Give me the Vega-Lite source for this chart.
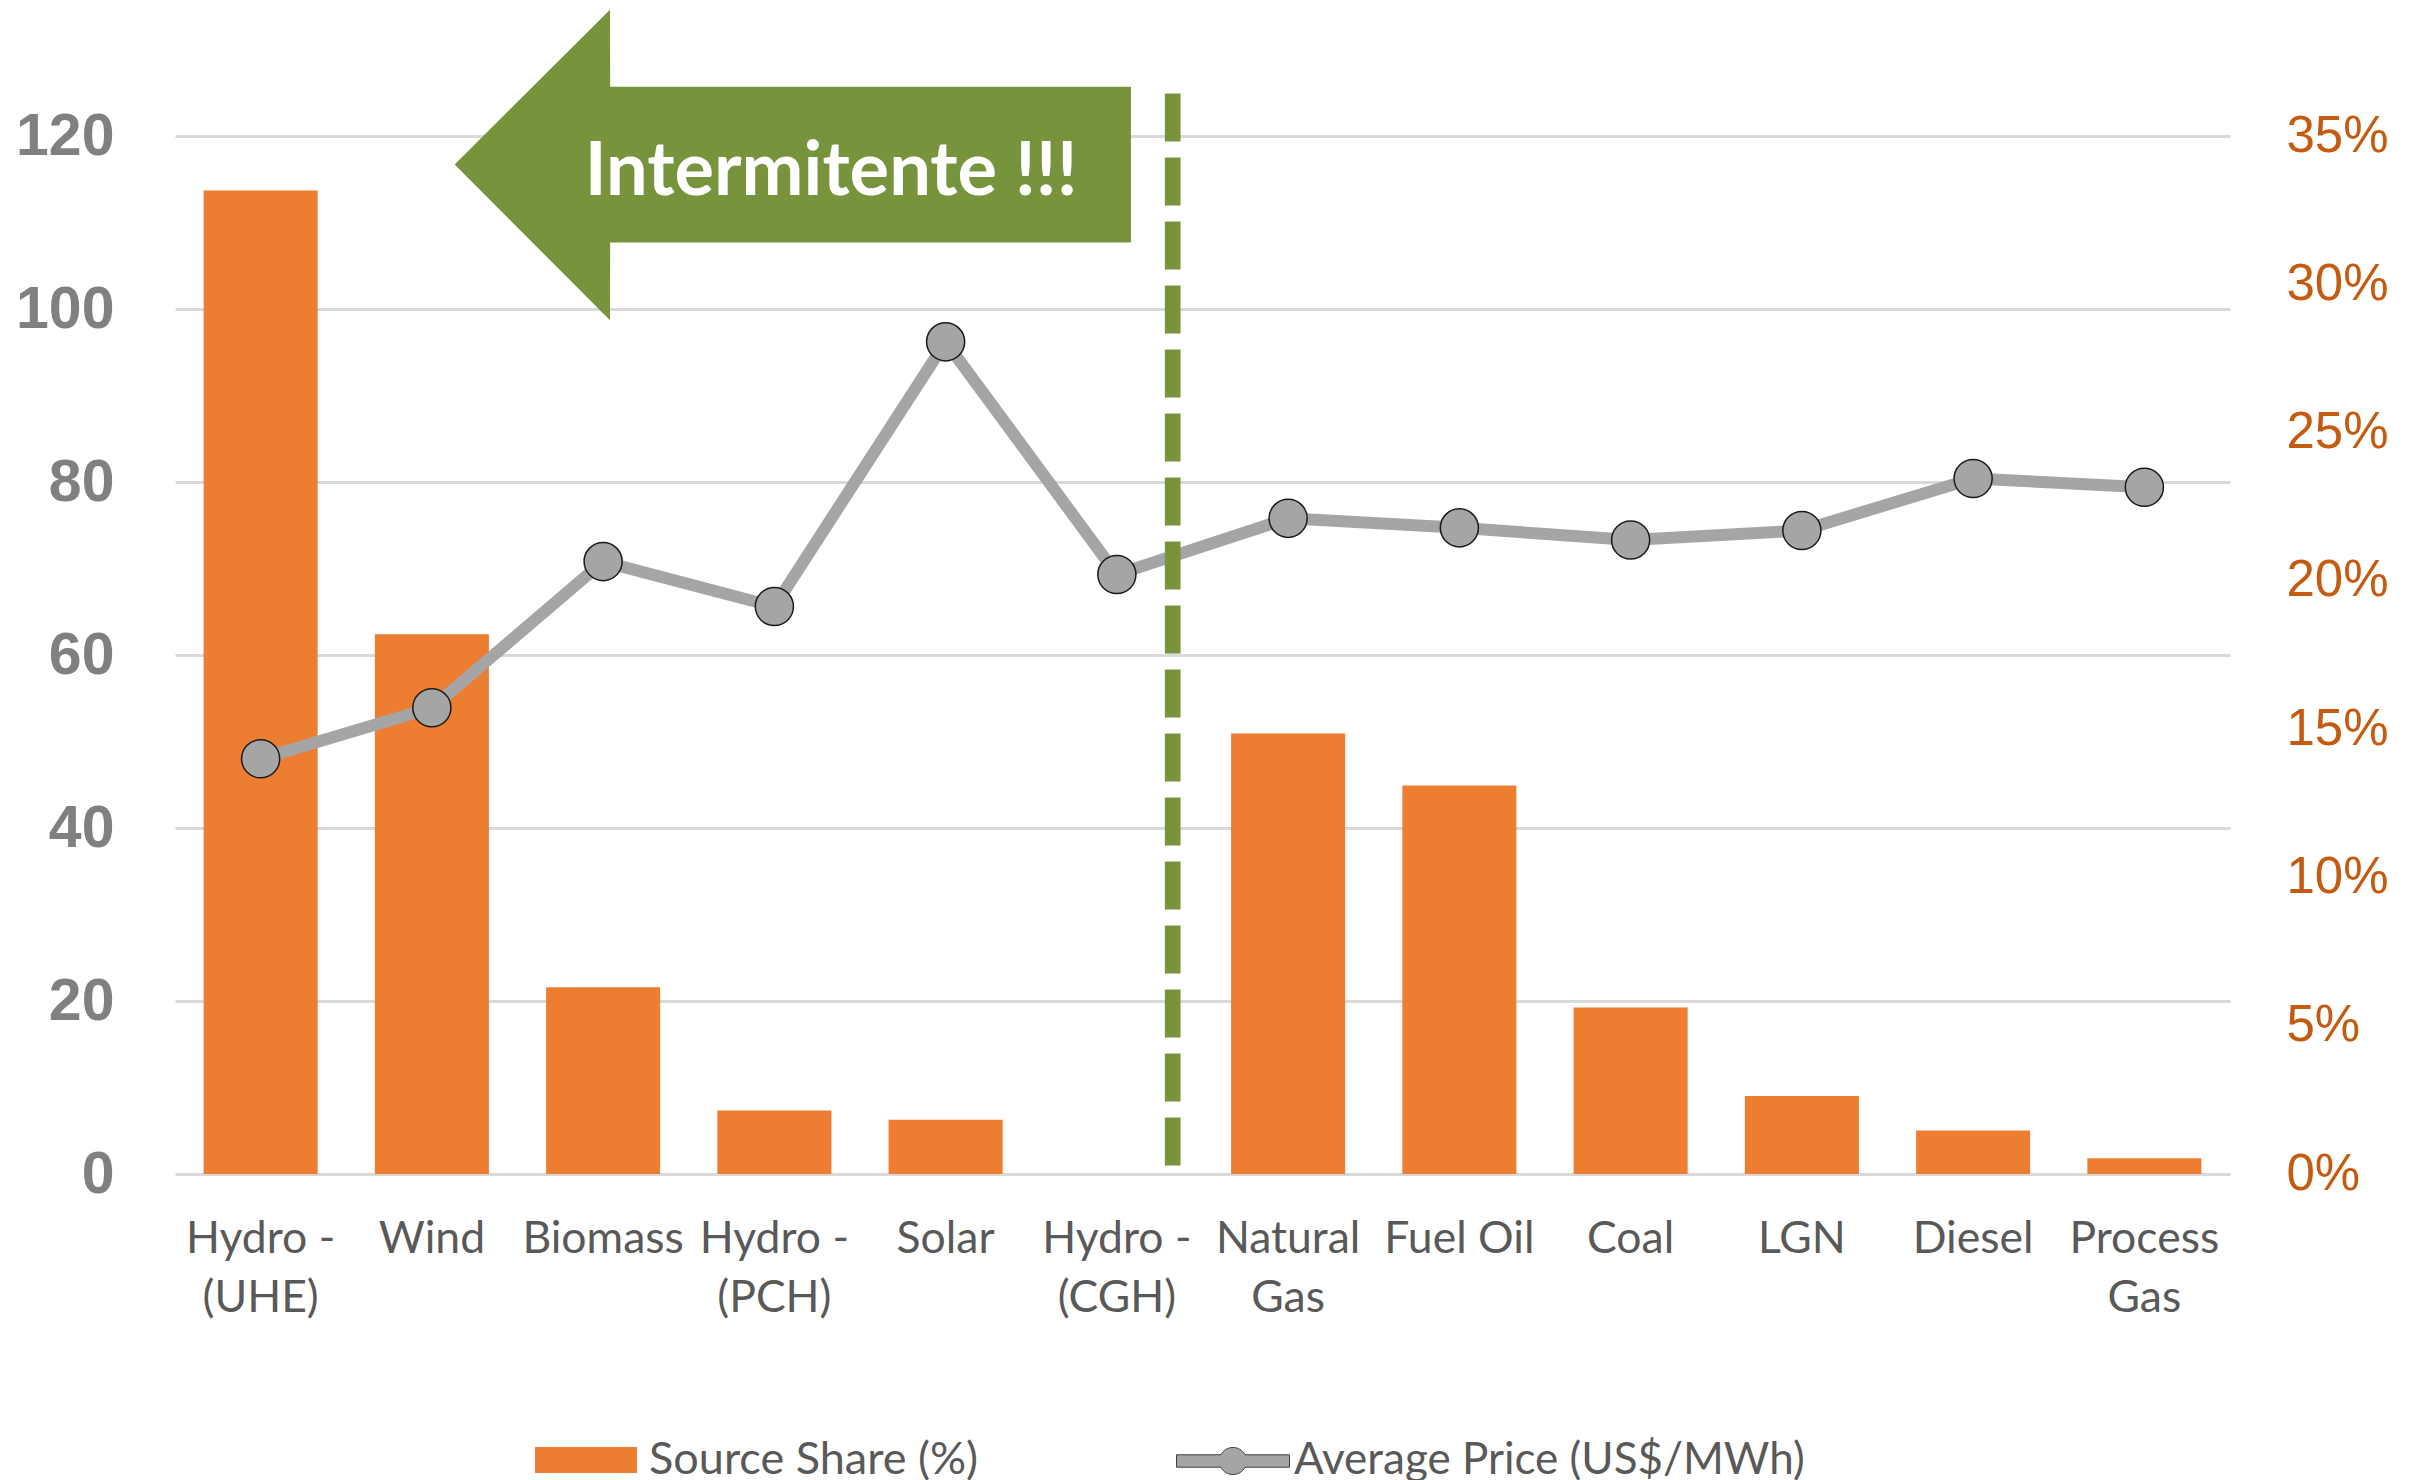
{
  "$schema": "https://vega.github.io/schema/vega-lite/v6.json",
  "width": 2055,
  "height": 1038,
  "autosize": {"type": "none"},
  "padding": {"left": 175, "top": 136, "right": 183, "bottom": 306},
  "background": "white",
  "config": {"view": {"stroke": null}},
  "datasets": {
    "sources": [
      {"source": "Hydro - (UHE)", "share": 0.3316, "price": 48.0},
      {"source": "Wind", "share": 0.182, "price": 53.9},
      {"source": "Biomass", "share": 0.063, "price": 70.8},
      {"source": "Hydro - (PCH)", "share": 0.0214, "price": 65.6},
      {"source": "Solar", "share": 0.0183, "price": 96.2},
      {"source": "Hydro - (CGH)", "share": 0, "price": 69.3},
      {"source": "Natural Gas", "share": 0.1485, "price": 75.8},
      {"source": "Fuel Oil", "share": 0.131, "price": 74.7},
      {"source": "Coal", "share": 0.0561, "price": 73.3},
      {"source": "LGN", "share": 0.0263, "price": 74.4},
      {"source": "Diesel", "share": 0.0147, "price": 80.4},
      {"source": "Process Gas", "share": 0.0053, "price": 79.4}
    ],
    "callout": [
      {"ax": 1.633, "upper": 116.7, "lower": 116.7, "ord": 1},
      {"ax": 2.54, "upper": 134.6, "lower": 98.7, "ord": 2},
      {"ax": 2.541, "upper": 125.7, "lower": 107.7, "ord": 3},
      {"ax": 5.582, "upper": 125.7, "lower": 107.7, "ord": 4}
    ],
    "calloutText": [
      {"label": "Intermitente !!!", "tx": 3.831, "ty": 113.2}
    ],
    "divider": [
      {"xd": 5.826, "ytop": 124.9, "ybot": 0.9}
    ]
  },
  "layer": [
    {
      "data": {"name": "sources"},
      "layer": [
        {
          "mark": {"type": "bar"},
          "encoding": {
            "x": {
              "field": "source", "type": "nominal", "sort": null,
              "scale": {"paddingInner": 0.334, "paddingOuter": 0.167},
              "axis": {
                "title": null, "labelAngle": 0, "domain": false, "ticks": false,
                "labelFont": "Lato", "labelFontSize": 44.5, "labelColor": "#595959",
                "labelPadding": 43, "labelLineHeight": 59, "labelOverlap": false, "labelLimit": 0,
                "labelExpr": "datum.value == 'Fuel Oil' ? datum.value : split(replace(datum.value, regexp(' (?=[^ ]+$)'), '|'), '|')"
              }
            },
            "y": {
              "field": "share", "type": "quantitative",
              "scale": {"domain": [0, 0.35], "nice": false},
              "axis": {
                "orient": "right", "title": null, "grid": false, "domain": false, "ticks": false,
                "values": [0, 0.05, 0.1, 0.15, 0.2, 0.25, 0.3, 0.35], "format": ".0%",
                "labelFont": "Liberation Sans", "labelFontSize": 51, "labelColor": "#C55A11",
                "labelPadding": 56
              }
            },
            "color": {
              "datum": "Source Share (%)", "type": "nominal",
              "scale": {"range": ["#ED7D31"]},
              "legend": {
                "orient": "none", "legendX": 360, "legendY": 1273, "title": null, "padding": 0,
                "symbolType": "M-1,-0.255H1V0.255H-1Z", "symbolSize": 10404, "symbolStrokeWidth": 0,
                "labelFont": "Lato", "labelFontSize": 45, "labelColor": "#595959",
                "labelOffset": 12, "labelLimit": 0
              }
            }
          }
        },
        {
          "mark": {"type": "line", "color": "#A5A5A5", "strokeWidth": 12},
          "encoding": {
            "x": {"field": "source", "type": "nominal", "sort": null},
            "y": {
              "field": "price", "type": "quantitative",
              "scale": {"domain": [0, 120], "nice": false},
              "axis": {
                "orient": "left", "title": null, "grid": true, "gridColor": "#D9D9D9", "gridWidth": 3,
                "domain": false, "ticks": false, "values": [0, 20, 40, 60, 80, 100, 120],
                "labelFont": "Liberation Sans", "labelFontWeight": "bold", "labelFontSize": 59,
                "labelColor": "#808080", "labelPadding": 61
              }
            }
          }
        },
        {
          "mark": {"type": "point", "filled": true, "size": 1452, "stroke": "#1a1a1a", "strokeWidth": 1.5, "opacity": 1},
          "encoding": {
            "x": {"field": "source", "type": "nominal", "sort": null},
            "y": {
              "field": "price", "type": "quantitative",
              "scale": {"domain": [0, 120], "nice": false}, "axis": null
            },
            "fill": {
              "datum": "Average Price (US$/MWh)", "type": "nominal",
              "scale": {"range": ["#A5A5A5"]},
              "legend": {
                "orient": "none", "legendX": 1001, "legendY": 1268, "title": null, "padding": 0,
                "symbolType": "M-1,-0.11H-0.2133A0.24,0.24 0 0,1 0.2133,-0.11H1V0.11H0.2133A0.24,0.24 0 0,1 -0.2133,0.11H-1Z",
                "symbolSize": 12769, "symbolStrokeColor": "#404040", "symbolStrokeWidth": 1,
                "labelFont": "Lato", "labelFontSize": 44, "labelColor": "#595959",
                "labelOffset": 4, "labelLimit": 0
              }
            }
          }
        }
      ],
      "resolve": {"scale": {"y": "independent"}}
    },
    {
      "data": {"name": "divider"},
      "mark": {"type": "rule", "color": "#77933C", "strokeWidth": 15.7, "strokeDash": [48, 16]},
      "encoding": {
        "x": {"field": "xd", "type": "quantitative", "scale": {"domain": [0, 12], "nice": false, "zero": false}, "axis": null},
        "y": {"field": "ytop", "type": "quantitative", "scale": {"domain": [0, 120], "nice": false}, "axis": null},
        "y2": {"field": "ybot"}
      }
    },
    {
      "data": {"name": "callout"},
      "mark": {"type": "area", "color": "#77933C", "orient": "vertical", "interpolate": "linear", "opacity": 1},
      "encoding": {
        "x": {"field": "ax", "type": "quantitative", "scale": {"domain": [0, 12], "nice": false, "zero": false}, "axis": null},
        "y": {"field": "upper", "type": "quantitative", "scale": {"domain": [0, 120], "nice": false}, "axis": null},
        "y2": {"field": "lower"}
      }
    },
    {
      "data": {"name": "calloutText"},
      "mark": {"type": "text", "color": "white", "font": "Lato", "fontWeight": "bold", "fontSize": 74, "align": "center", "baseline": "alphabetic"},
      "encoding": {
        "x": {"field": "tx", "type": "quantitative", "scale": {"domain": [0, 12], "nice": false, "zero": false}, "axis": null},
        "y": {"field": "ty", "type": "quantitative", "scale": {"domain": [0, 120], "nice": false}, "axis": null},
        "text": {"field": "label"}
      }
    }
  ],
  "resolve": {"scale": {"x": "independent", "y": "independent"}}
}
